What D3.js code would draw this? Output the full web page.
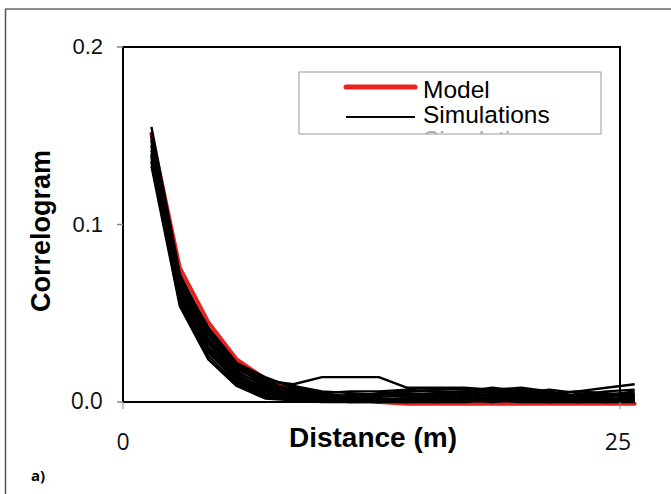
<!DOCTYPE html>
<meta charset="utf-8">
<head>
  <title>Correlogram - model vs simulations</title>
</head>

<style>
body {
  margin: 0;
  background: #fff;
}
text {
  font-family: "Liberation Sans", Arial, sans-serif;
}
</style>

<body>
  <div id="content">
    <svg width="671" height="494"></svg>
  </div>

  <script src="https://cdnjs.cloudflare.com/ajax/libs/d3/7.8.5/d3.min.js"></script>

  <script>
// lag distances (m)
var distances = [1.43, 2.86, 4.29, 5.72, 7.15, 8.58, 10.01, 11.44, 12.87, 14.30,
                 15.73, 17.16, 18.59, 20.02, 21.45, 22.88, 24.31, 25.74];

// fitted model
var model = [0.151, 0.0755, 0.045, 0.024, 0.013, 0.007, 0.004, 0.002, 0.0, -0.001,
             -0.001, -0.001, -0.001, -0.001, -0.001, -0.001, -0.001, -0.001];

// simulated correlograms
var simulations = [
  [0.155, 0.072, 0.040, 0.020, 0.012, 0.010, 0.014, 0.014, 0.014, 0.008, 0.008, 0.008, 0.007, 0.005, 0.004, 0.006, 0.008, 0.010],
  [0.150, 0.070, 0.042, 0.022, 0.014, 0.008, 0.005, 0.003, 0.004, 0.006, 0.007, 0.007, 0.006, 0.007, 0.005, 0.003, 0.004, 0.006],
  [0.148, 0.066, 0.038, 0.019, 0.010, 0.006, 0.004, 0.002, 0.003, 0.004, 0.005, 0.006, 0.008, 0.006, 0.004, 0.002, 0.003, 0.004],
  [0.145, 0.062, 0.035, 0.017, 0.009, 0.005, 0.003, 0.002, 0.001, 0.002, 0.003, 0.004, 0.003, 0.005, 0.007, 0.005, 0.004, 0.003],
  [0.142, 0.060, 0.033, 0.015, 0.008, 0.004, 0.002, 0.001, 0.002, 0.001, 0.002, 0.003, 0.002, 0.001, 0.002, 0.004, 0.006, 0.007],
  [0.140, 0.058, 0.030, 0.013, 0.006, 0.003, 0.002, 0.001, 0.000, 0.001, 0.002, 0.001, 0.002, 0.003, 0.002, 0.001, 0.002, 0.002],
  [0.138, 0.056, 0.028, 0.012, 0.005, 0.002, 0.001, 0.000, 0.001, 0.000, 0.001, 0.002, 0.001, 0.002, 0.001, 0.000, 0.001, 0.003],
  [0.135, 0.055, 0.026, 0.010, 0.003, 0.001, 0.001, 0.000, 0.000, 0.001, 0.000, 0.001, 0.000, 0.001, 0.000, 0.001, 0.000, 0.001],
  [0.133, 0.054, 0.024, 0.009, 0.002, 0.001, 0.000, 0.000, 0.000, 0.000, 0.000, 0.000, 0.001, 0.000, 0.000, 0.000, 0.000, 0.000],
  [0.152, 0.068, 0.039, 0.020, 0.011, 0.007, 0.004, 0.003, 0.005, 0.006, 0.006, 0.005, 0.004, 0.003, 0.005, 0.006, 0.005, 0.004],
  [0.147, 0.064, 0.036, 0.018, 0.012, 0.006, 0.003, 0.004, 0.003, 0.005, 0.004, 0.006, 0.005, 0.004, 0.003, 0.002, 0.003, 0.005],
  [0.144, 0.063, 0.034, 0.016, 0.010, 0.007, 0.005, 0.006, 0.006, 0.007, 0.006, 0.005, 0.006, 0.005, 0.003, 0.004, 0.002, 0.001],
  [0.139, 0.059, 0.031, 0.014, 0.007, 0.004, 0.003, 0.002, 0.004, 0.003, 0.004, 0.003, 0.002, 0.003, 0.004, 0.003, 0.001, 0.002],
  [0.136, 0.057, 0.029, 0.011, 0.004, 0.002, 0.002, 0.003, 0.002, 0.002, 0.001, 0.002, 0.004, 0.002, 0.001, 0.002, 0.001, 0.000],
  [0.150, 0.071, 0.041, 0.021, 0.013, 0.009, 0.006, 0.005, 0.004, 0.003, 0.004, 0.005, 0.007, 0.008, 0.006, 0.003, 0.002, 0.001]
];

var yTicks = [0, 0.1, 0.2];
var xTicks = [0, 25];
var legendLabels = ['Model', 'Simulations', 'Simulations'];

var svg = d3.select('#content svg');

// plot box (don't call it "top", that's window.top)
var boxL = 123, boxR = 620, boxT = 47, boxB = 402;

var x = d3.scaleLinear().domain([0, 25]).range([boxL, boxR]);
var y = d3.scaleLinear().domain([0, 0.2]).range([boxB, boxT]);

// outer frame (only top and left edges show)
svg.append('line').attr('x1', 5).attr('x2', 671).attr('y1', 9).attr('y2', 9)
  .attr('stroke', '#666').attr('stroke-width', 1.5);
svg.append('line').attr('x1', 5.5).attr('x2', 5.5).attr('y1', 9).attr('y2', 494)
  .attr('stroke', '#555').attr('stroke-width', 1.5);

var line = d3.line()
  .x(function(d, i) { return x(distances[i]); })
  .y(function(d) { return y(d); });

// box lines first, data sits on top
svg.append('path')
  .attr('d', 'M' + boxL + ',' + boxB + 'V' + boxT + 'H' + boxR + 'V' + boxB)
  .attr('fill', 'none').attr('stroke', '#000').attr('stroke-width', 2);
svg.append('line').attr('x1', boxL).attr('x2', boxR).attr('y1', boxB).attr('y2', boxB)
  .attr('stroke', '#000').attr('stroke-width', 2);

// model goes underneath the simulations
svg.append('path')
  .datum(model)
  .attr('d', line)
  .attr('fill', 'none')
  .attr('stroke', '#e8221e')
  .attr('stroke-width', 4)
  .attr('stroke-linejoin', 'round')
  .attr('stroke-linecap', 'round');

svg.selectAll('.sim')
  .data(simulations)
  .enter().append('path')
  .attr('class', 'sim')
  .attr('d', line)
  .attr('fill', 'none')
  .attr('stroke', '#000')
  .attr('stroke-width', 2.4)
  .attr('stroke-linejoin', 'round');

// y axis ticks + labels
var fmt = d3.format('.1f');
svg.selectAll('.ytick')
  .data(yTicks)
  .enter().append('line')
  .attr('x1', boxL - 6).attr('x2', boxL)
  .attr('y1', function(d) { return y(d); })
  .attr('y2', function(d) { return y(d); })
  .attr('stroke', '#888').attr('stroke-width', 1.5);

svg.selectAll('.ylab')
  .data(yTicks)
  .enter().append('text')
  .attr('x', 103)
  .attr('y', function(d) { return y(d) + 7; })
  .attr('text-anchor', 'end')
  .style('font-size', function(d) { return d == 0 ? '23px' : '22px'; })
  .style('font-family', function(d) { return d == 0 ? '"Open Sans", sans-serif' : null; })
  .attr('fill', '#111')
  .text(function(d) { return fmt(d); });

// x axis ticks + labels
svg.selectAll('.xtick')
  .data(xTicks)
  .enter().append('line')
  .attr('x1', function(d) { return x(d); })
  .attr('x2', function(d) { return x(d); })
  .attr('y1', boxB).attr('y2', boxB + 7)
  .attr('stroke', '#888').attr('stroke-width', 1);

svg.selectAll('.xlab')
  .data(xTicks)
  .enter().append('text')
  .attr('x', function(d) { return x(d) - (d == 25 ? 2 : 0); })
  .attr('y', 450)
  .attr('text-anchor', 'middle')
  .style('font-family', '"Open Sans", sans-serif')
  .style('font-size', '23px')
  .attr('fill', '#111')
  .text(function(d) { return d; });

// axis titles
svg.append('text')
  .attr('x', 373).attr('y', 447)
  .attr('text-anchor', 'middle')
  .style('font-size', '28px').style('font-weight', 'bold')
  .text('Distance (m)');

svg.append('text')
  .attr('transform', 'translate(50,231) rotate(-90)')
  .attr('text-anchor', 'middle')
  .style('font-size', '27px').style('font-weight', 'bold')
  .text('Correlogram');

svg.append('text')
  .attr('x', 31).attr('y', 481)
  .style('font-family', '"Open Sans", sans-serif')
  .style('font-size', '15px').style('font-weight', 'bold')
  .text('a)');

// legend
var lx = 299, ly = 72, lw = 302, lh = 62;
svg.append('clipPath').attr('id', 'legclip')
  .append('rect').attr('x', lx).attr('y', ly).attr('width', lw).attr('height', lh);

svg.append('rect')
  .attr('x', lx).attr('y', ly).attr('width', lw).attr('height', lh)
  .attr('fill', '#fff').attr('stroke', '#999').attr('stroke-width', 1);

var leg = svg.append('g').attr('clip-path', 'url(#legclip)');
var legColors = ['#e8221e', '#000', '#000'];
var legWidths = [5, 2, 2];

leg.selectAll('.legline')
  .data(legendLabels.slice(0, 2))
  .enter().append('line')
  .attr('x1', 346).attr('x2', 415)
  .attr('y1', function(d, i) { return 87 + i * 30; })
  .attr('y2', function(d, i) { return 87 + i * 30; })
  .attr('stroke', function(d, i) { return legColors[i]; })
  .attr('stroke-width', function(d, i) { return legWidths[i]; })
  .attr('stroke-linecap', function(d, i) { return i == 0 ? 'round' : 'butt'; });

leg.selectAll('.legtext')
  .data(legendLabels)
  .enter().append('text')
  .attr('x', 423)
  .attr('y', function(d, i) { return 98 + i * 25; })
  .style('font-size', '24.5px')
  .attr('fill', function(d, i) { return i == 2 ? '#aaa' : '#000'; })
  .text(function(d) { return d; });
  </script>
</body>
</html>
